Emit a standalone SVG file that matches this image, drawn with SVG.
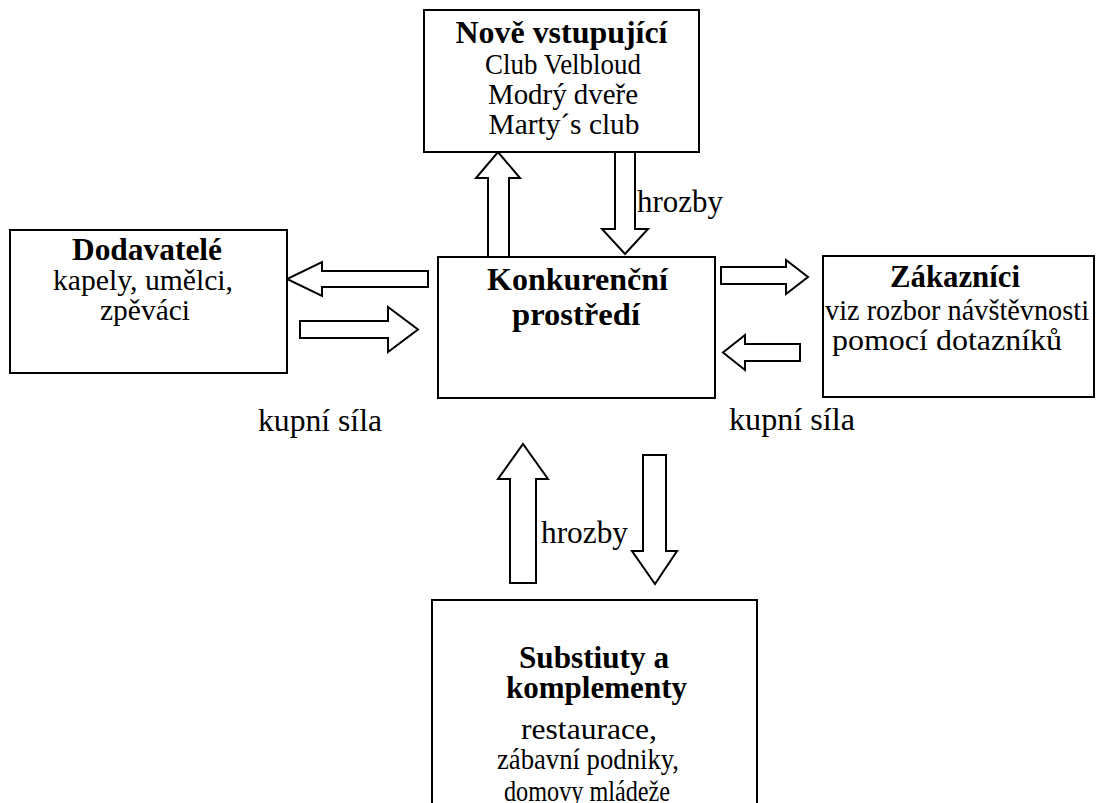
<svg xmlns="http://www.w3.org/2000/svg" width="1097" height="803" viewBox="0 0 1097 803">
  <style>
    .box { fill: #fff; stroke: #000; stroke-width: 2; }
    .arrow { fill: #fff; stroke: #000; stroke-width: 2; stroke-linejoin: miter; }
    text { font-family: "Liberation Serif", "Times New Roman", serif; fill: #000; }
    .t { font-size: 31.5px; font-weight: bold; text-anchor: middle; }
    .r { font-size: 30px; text-anchor: middle; }
    .s { font-size: 28.5px; }
    .lbl { font-size: 31px; }
  </style>
  <rect width="1097" height="803" fill="#fff"/>

  <!-- block arrows between the forces -->
  <g id="connectors">
    <!-- centre up to new entrants -->
    <path class="arrow" d="M488,257 V178 H476 L498,152 L520,178 H509 V257 Z"/>
    <!-- new entrants down to centre -->
    <path class="arrow" d="M615,152 H635 V229 H648 L625,254 L602,229 H615 Z"/>
    <!-- centre to suppliers -->
    <path class="arrow" d="M428,271 H322 V262 L287,279 L322,296 V287 H428 Z"/>
    <!-- suppliers to centre -->
    <path class="arrow" d="M300,321 H388 V307 L418,329.5 L388,352 V338 H300 Z"/>
    <!-- centre to customers -->
    <path class="arrow" d="M721,267 H786 V260 L808,277 L786,294 V284 H721 Z"/>
    <!-- customers to centre -->
    <path class="arrow" d="M800,344 H745 V335 L723,352.5 L745,370 V361 H800 Z"/>
    <!-- substitutes up to centre -->
    <path class="arrow" d="M510,583 V479 H498 L523,444 L548,479 H536 V583 Z"/>
    <!-- centre down to substitutes -->
    <path class="arrow" d="M643,455 H666 V551 H677 L655,584 L632,551 H643 Z"/>
    <text class="lbl" x="637" y="212" textLength="86" lengthAdjust="spacingAndGlyphs">hrozby</text>
    <text class="lbl" x="541" y="543" textLength="87" lengthAdjust="spacingAndGlyphs">hrozby</text>
    <text class="lbl" x="258" y="431" textLength="124" lengthAdjust="spacingAndGlyphs">kupní síla</text>
    <text class="lbl" x="729" y="430" textLength="126" lengthAdjust="spacingAndGlyphs">kupní síla</text>
  </g>

  <g id="nove-vstupujici">
    <rect class="box" x="424" y="10" width="275" height="142"/>
    <text class="t" x="561.5" y="43" textLength="212" lengthAdjust="spacingAndGlyphs">Nově vstupující</text>
    <text class="r" x="563" y="74" textLength="156" lengthAdjust="spacingAndGlyphs">Club Velbloud</text>
    <text class="r" x="563" y="104" textLength="150" lengthAdjust="spacingAndGlyphs">Modrý dveře</text>
    <text class="r" x="564" y="134" textLength="151" lengthAdjust="spacingAndGlyphs">Marty´s club</text>
  </g>

  <g id="dodavatele">
    <rect class="box" x="10" y="230" width="277" height="143"/>
    <text class="t" x="147" y="260" textLength="150" lengthAdjust="spacingAndGlyphs">Dodavatelé</text>
    <text class="r" x="143" y="290" textLength="180" lengthAdjust="spacingAndGlyphs">kapely, umělci,</text>
    <text class="r" x="145" y="320" textLength="90" lengthAdjust="spacingAndGlyphs">zpěváci</text>
  </g>

  <g id="konkurencni-prostredi">
    <rect class="box" x="438" y="257" width="277" height="141"/>
    <text class="t" x="577.5" y="290" textLength="181" lengthAdjust="spacingAndGlyphs">Konkurenční</text>
    <text class="t" x="576" y="325" textLength="128" lengthAdjust="spacingAndGlyphs">prostředí</text>
  </g>

  <g id="zakaznici">
    <rect class="box" x="823" y="256" width="271" height="141"/>
    <text class="t" x="955" y="287" textLength="130" lengthAdjust="spacingAndGlyphs">Zákazníci</text>
    <text class="r" x="957" y="320" textLength="264" lengthAdjust="spacingAndGlyphs">viz rozbor návštěvnosti</text>
    <text class="r" x="947" y="350" textLength="230" lengthAdjust="spacingAndGlyphs">pomocí dotazníků</text>
  </g>

  <g id="substituty">
    <rect class="box" x="432" y="600" width="325" height="215"/>
    <text class="t" x="594" y="668" textLength="150" lengthAdjust="spacingAndGlyphs">Substiuty a</text>
    <text class="t" x="596.5" y="698" textLength="181" lengthAdjust="spacingAndGlyphs">komplementy</text>
    <text class="r" x="589" y="739" textLength="136" lengthAdjust="spacingAndGlyphs">restaurace,</text>
    <text class="r s" x="588" y="769" textLength="182" lengthAdjust="spacingAndGlyphs">zábavní podniky,</text>
    <text class="r s" x="587" y="801" textLength="166" lengthAdjust="spacingAndGlyphs">domovy mládeže</text>
  </g>
</svg>
